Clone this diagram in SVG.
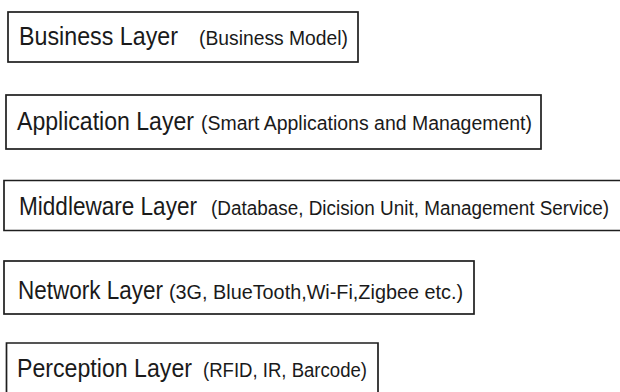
<svg xmlns="http://www.w3.org/2000/svg" width="620" height="392" viewBox="0 0 620 392">
<style>
.box{fill:#ffffff;stroke:#1e1e1e;stroke-width:1.7}
.big{font-family:"Liberation Sans",Arial,sans-serif;font-size:25px;fill:#1a1a1a}
.small{font-family:"Liberation Sans",Arial,sans-serif;font-size:19.5px;fill:#1a1a1a}
</style>
<rect x="0" y="0" width="620" height="392" fill="#ffffff"/>
<g id="business">
<rect class="box" x="8" y="12" width="350" height="50"/>
<text class="big" x="19" y="45" textLength="159" lengthAdjust="spacingAndGlyphs">Business Layer</text>
<text class="small" x="199" y="45" textLength="149" lengthAdjust="spacingAndGlyphs">(Business Model)</text>
</g>
<g id="application">
<rect class="box" x="6" y="95" width="535" height="54"/>
<text class="big" x="17" y="130" textLength="177" lengthAdjust="spacingAndGlyphs">Application Layer</text>
<text class="small" x="201" y="130" textLength="331" lengthAdjust="spacingAndGlyphs">(Smart Applications and Management)</text>
</g>
<g id="middleware">
<path class="box" d="M620,180.5 H4 V230.5 H620"/>
<text class="big" x="19" y="215" textLength="178" lengthAdjust="spacingAndGlyphs">Middleware Layer</text>
<text class="small" x="211" y="215" textLength="398" lengthAdjust="spacingAndGlyphs">(Database, Dicision Unit, Management Service)</text>
</g>
<g id="network">
<rect class="box" x="4" y="261" width="470" height="53"/>
<text class="big" x="18" y="299" textLength="145" lengthAdjust="spacingAndGlyphs">Network Layer</text>
<text class="small" x="169" y="299" textLength="294" lengthAdjust="spacingAndGlyphs">(3G, BlueTooth,Wi-Fi,Zigbee etc.)</text>
</g>
<g id="perception">
<path class="box" d="M6.5,392 V343 H378 V392"/>
<text class="big" x="17" y="377" textLength="175" lengthAdjust="spacingAndGlyphs">Perception Layer</text>
<text class="small" x="203" y="377" textLength="164" lengthAdjust="spacingAndGlyphs">(RFID, IR, Barcode)</text>
</g>
<g id="connectors"></g>
</svg>
